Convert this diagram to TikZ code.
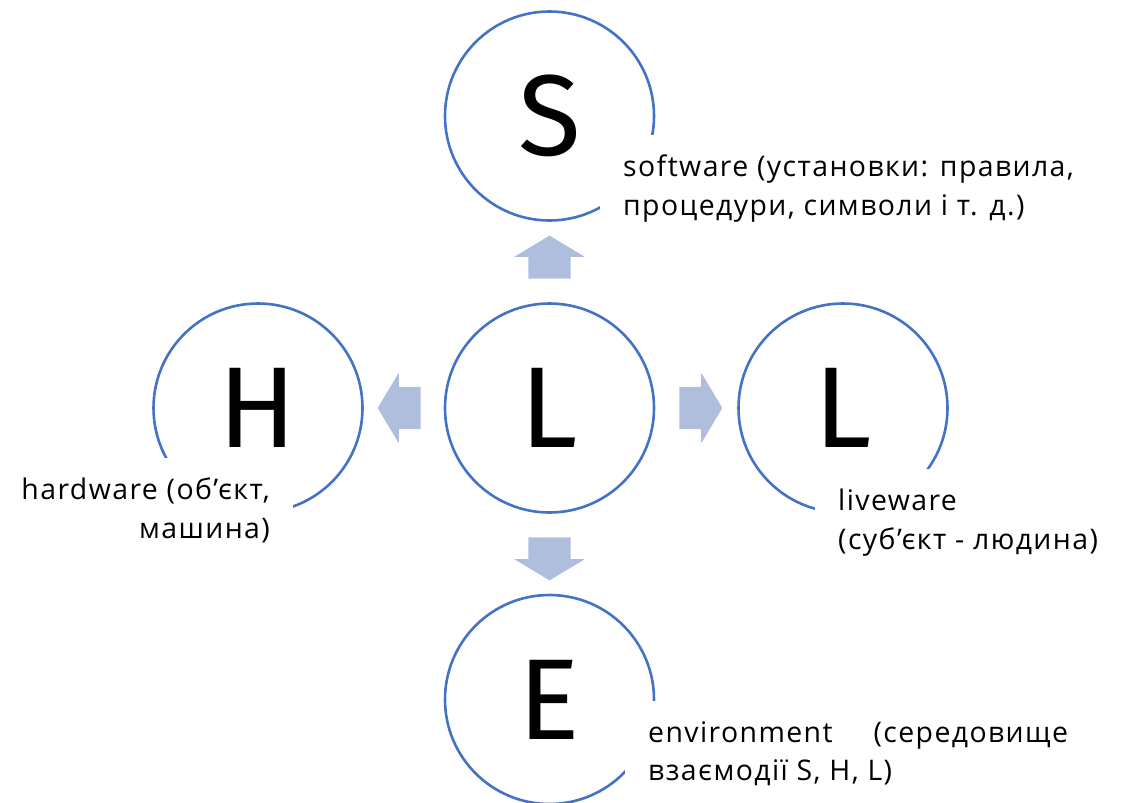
\documentclass[tikz,border=0pt]{standalone}
\usepackage{fontspec}
\setmainfont{Fira Sans}
\newfontfamily\labelfont[LetterSpace=5]{Open Sans}
\usetikzlibrary{shapes.arrows}

\definecolor{ringblue}{RGB}{68,114,196}
\definecolor{arrowfill}{RGB}{176,190,222}

\tikzset{
	ring/.style={circle, draw=ringblue, line width=2.6pt, minimum size=209pt, inner sep=0pt, font=\fontsize{115}{115}\selectfont},
	lbl/.style={fill=white, inner xsep=23pt, inner ysep=20pt, font=\labelfont\fontsize{28.4}{38.5}\selectfont},
	blockarrow/.style={single arrow, fill=arrowfill, draw=none, inner xsep=0pt, inner ysep=21pt, minimum height=43pt, single arrow head extend=14pt, single arrow tip angle=118}
}

\begin{document}
\begin{tikzpicture}[x=1pt, y=-1pt]
		\useasboundingbox (0,0) rectangle (1125,803);

		\node[ring] (S) at (549.5,116) {S};
		\node[ring] (Lc) at (549.5,408) {L};
		\node[ring] (H) at (258,408) {H};
		\node[ring] (Lr) at (843,408) {L};
		\node[ring] (E) at (549.5,699.5) {E};

		\node[blockarrow, rotate=90] (up) at (549.5,263.5) {};
		\node[blockarrow, rotate=180] (left) at (405.5,408) {};
		\node[blockarrow] (right) at (694.5,408) {};
		\node[blockarrow, rotate=-90] (down) at (549.5,552.5) {};

		\node[lbl, anchor=north west, align=left] (soft) at (600,135) {software (установки: правила,\\процедури, символи і т. д.)};
		\node[lbl, anchor=north east, align=right] (hard) at (293,458) {hardware (об’єкт,\\машина)};
		\node[lbl, anchor=north west, align=left] (live) at (815,469) {liveware\\(суб’єкт - людина)};
		\node[lbl, anchor=north west, align=left] (env) at (625,701) {environment\hspace{41pt}(середовище\\взаємодії S, H, L)};
\end{tikzpicture}
\end{document}
